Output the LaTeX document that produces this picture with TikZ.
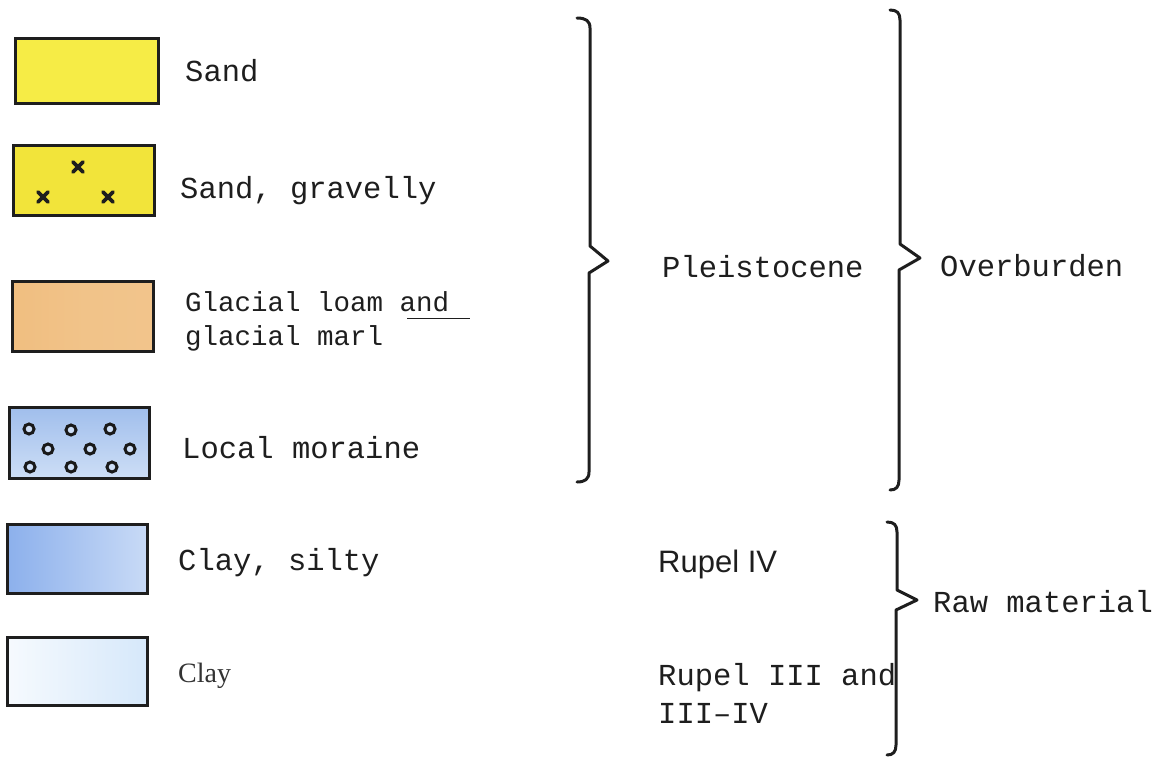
\documentclass[tikz,border=0pt]{standalone}
\usepackage{fontspec}
\newfontfamily\monof{Liberation Mono}
\newfontfamily\arialf{Liberation Sans}
\newfontfamily\timesf{Liberation Serif}
\definecolor{sandY}{RGB}{246,236,70}
\definecolor{sandG}{RGB}{242,228,58}
\definecolor{loamO}{RGB}{240,190,128}
\definecolor{loamL}{RGB}{248,222,186}
\definecolor{moraB}{RGB}{160,190,236}
\definecolor{moraL}{RGB}{205,222,246}
\definecolor{siltB}{RGB}{140,176,236}
\definecolor{siltL}{RGB}{200,218,246}
\definecolor{clayB}{RGB}{214,232,250}
\definecolor{clayL}{RGB}{246,250,254}
\definecolor{inkc}{RGB}{30,30,30}
\tikzset{
  legbox/.style={draw=inkc, line width=3pt, rectangle},
  lbl/.style={anchor=base west, inner sep=0pt, font=\monof\fontsize{30.5}{34}\selectfont, text=inkc},
  lblsm/.style={anchor=base west, inner sep=0pt, font=\monof\fontsize{27.5}{34}\selectfont, text=inkc},
  bracepath/.style={draw=inkc, line width=3pt, line join=round, line cap=round},
  crossm/.style={draw=inkc, line width=3.6pt, line cap=round},
  ringm/.style={draw=black!90, line width=3pt, fill=moraL}
}
\begin{document}
\begin{tikzpicture}[x=1pt,y=-1pt]
\useasboundingbox (0,0) rectangle (1170,758);
% legend boxes
\path[fill=sandY] (15,38) rectangle (158,103);
\path[legbox] (15,38) rectangle (158,103);
\node[inner sep=0pt] (b1) at (86.5,70.5) {};
\path[fill=sandG] (13,145) rectangle (154,215);
\path[legbox] (13,145) rectangle (154,215);
\node[inner sep=0pt] (b2) at (83.5,180) {};
\path[left color=loamO, right color=loamO!80!loamL, middle color=loamO!85!loamL] (12,281) rectangle (153,351);
\path[legbox] (12,281) rectangle (153,351);
\node[inner sep=0pt] (b3) at (82.5,316) {};
\path[top color=moraB, bottom color=moraL] (9,407) rectangle (149,478);
\path[legbox] (9,407) rectangle (149,478);
\node[inner sep=0pt] (b4) at (79,442.5) {};
\path[left color=siltB, right color=siltL] (7,524) rectangle (147,593);
\path[legbox] (7,524) rectangle (147,593);
\node[inner sep=0pt] (b5) at (77,558.5) {};
\path[left color=clayL, right color=clayB] (7,637) rectangle (147,705);
\path[legbox] (7,637) rectangle (147,705);
\node[inner sep=0pt] (b6) at (77,671) {};
% crosses
\foreach \cx/\cy in {78/167, 43/197, 108/197}{
  \draw[crossm] (\cx-5.2,\cy-5.2) -- (\cx+5.2,\cy+5.2);
  \draw[crossm] (\cx-5.2,\cy+5.2) -- (\cx+5.2,\cy-5.2);
}
% rings
\foreach \cx/\cy in {29/429, 71/430, 110/429, 48/449, 90/449, 130/449, 30/467, 71/467, 112/467}{
  \draw[ringm] (\cx,\cy) circle (5);
}
% labels
\node[lbl] (t1) at (185,81) {Sand};
\node[lbl] (t2) at (180,198) {Sand, gravelly};
\node[lblsm] (t3a) at (185,311) {Glacial loam and};
\node[lblsm] (t3b) at (185,345) {glacial marl};
\coordinate (u1) at (407,318);
\coordinate (u2) at (470,318);
\draw[inkc, line width=1pt] (u1) -- (u2);
\node[lbl] (t4) at (182,458) {Local moraine};
\node[lbl] (t5) at (178,570) {Clay, silty};
\node[anchor=base west, inner sep=0pt, font=\timesf\fontsize{28}{30}\selectfont, text=black!80] (t6) at (178,682) {Clay};
% right labels
\node[lbl] (pl) at (662,277) {Pleistocene};
\node[lbl] (ov) at (940,276) {Overburden};
\node[anchor=base west, inner sep=0pt, font=\arialf\fontsize{31}{34}\selectfont, text=inkc] (r4) at (658,572) {Rupel IV};
\node[lbl] (r3a) at (658,685) {Rupel III and};
\node[lbl] (r3b) at (658,723) {III\textendash IV};
\node[lbl] (rm) at (933,612) {Raw material};
% braces
\coordinate (p1) at (608,261);
\draw[bracepath] (577,18) .. controls (586,18) and (590,21) .. (590,28) -- (590,246) -- (p1) -- (589,273) -- (589,472) .. controls (589,479) and (585,482) .. (577,482);
\coordinate (p2) at (920,258);
\draw[bracepath] (890,10) .. controls (897,10) and (900,13) .. (900,20) -- (900,244) -- (p2) -- (899,270) -- (899,480) .. controls (899,487) and (896,490) .. (890,490);
\coordinate (p3) at (917,600);
\draw[bracepath] (887,522) .. controls (894,522) and (897,525) .. (897,532) -- (897,590) -- (p3) -- (896,610) -- (896,745) .. controls (896,752) and (893,755) .. (887,755);
\end{tikzpicture}
\end{document}
